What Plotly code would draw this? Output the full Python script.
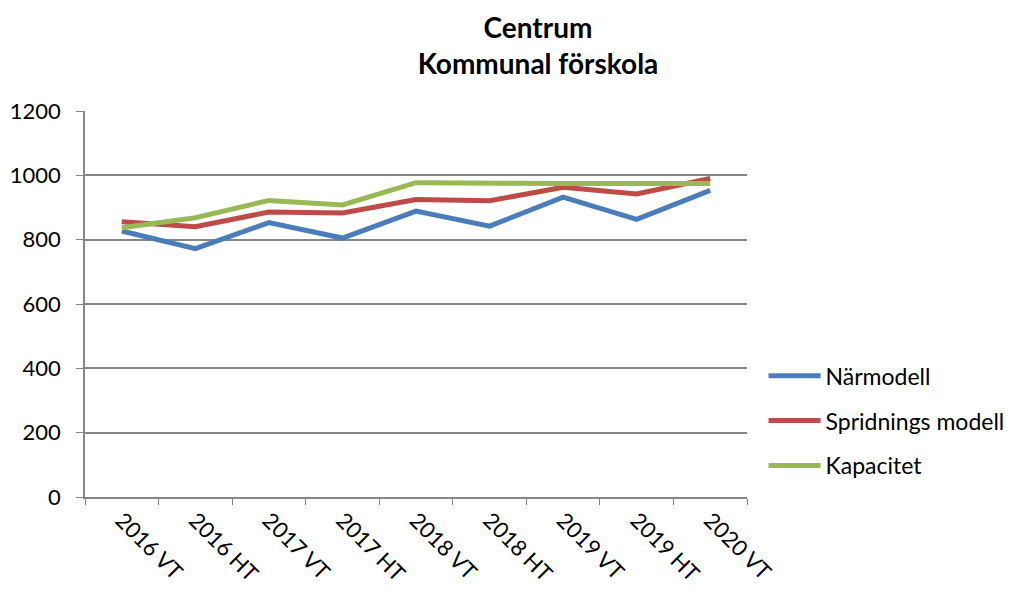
import plotly.graph_objects as go

categories = ["2016 VT", "2016 HT", "2017 VT", "2017 HT", "2018 VT",
              "2018 HT", "2019 VT", "2019 HT", "2020 VT"]
narmodell = [827, 772, 853, 805, 889, 842, 932, 863, 953]
spridning = [856, 840, 886, 883, 925, 921, 963, 942, 990]
kapacitet = [837, 868, 922, 908, 977, 975, 975, 975, 975]

series = [
    ("Närmodell", narmodell, "#4A7EBB"),
    ("Spridnings modell", spridning, "#BE4B48"),
    ("Kapacitet", kapacitet, "#98B954"),
]

FONT = "Lato"
# the page body has an 8px default margin; compensate so the figure
# lands where the reference has it inside the 1021x595 window
W, H = 1013, 587

fig = go.Figure()
for i, (name, vals, col) in enumerate(series):
    fig.add_trace(go.Scatter(
        x=categories, y=vals, name=name, mode="lines",
        line=dict(color=col, width=5),
        legendgroup=f"g{i}",
    ))

fig.update_layout(
    width=W, height=H,
    paper_bgcolor="white", plot_bgcolor="white",
    margin=dict(l=77, r=274, t=103, b=98, autoexpand=False),
    font=dict(family=FONT, size=22, color="black"),
    title=dict(
        text="<b>Centrum</b><br><b>Kommunal förskola</b>",
        x=530 / W, xref="container", xanchor="center",
        y=1 - 30 / H, yref="container", yanchor="middle",
        font=dict(family=FONT, size=28, color="black"),
    ),
    legend=dict(
        x=1.025, y=0.37, xanchor="left", yanchor="top",
        font=dict(family=FONT, size=23, color="black"),
        tracegroupgap=12, bgcolor="rgba(0,0,0,0)", itemwidth=52,
    ),
    showlegend=True,
)

fig.update_xaxes(
    type="category", range=[-0.5, 8.5], automargin=False,
    showline=True, linecolor="#868686", linewidth=1.5,
    ticks="outside", tickson="boundaries", ticklen=6, tickcolor="#868686",
    tickangle=45, showgrid=False, zeroline=False,
    tickfont=dict(family=FONT, size=22),
)
fig.update_yaxes(
    range=[0, 1200], dtick=200, automargin=False,
    showline=True, linecolor="#868686", linewidth=1.5,
    ticks="outside", ticklen=7, tickcolor="#868686",
    showgrid=True, gridcolor="#868686", gridwidth=1.5,
    zeroline=False, ticklabelstandoff=11,
    tickfont=dict(family=FONT, size=22),
)

fig.write_html("out.html")
